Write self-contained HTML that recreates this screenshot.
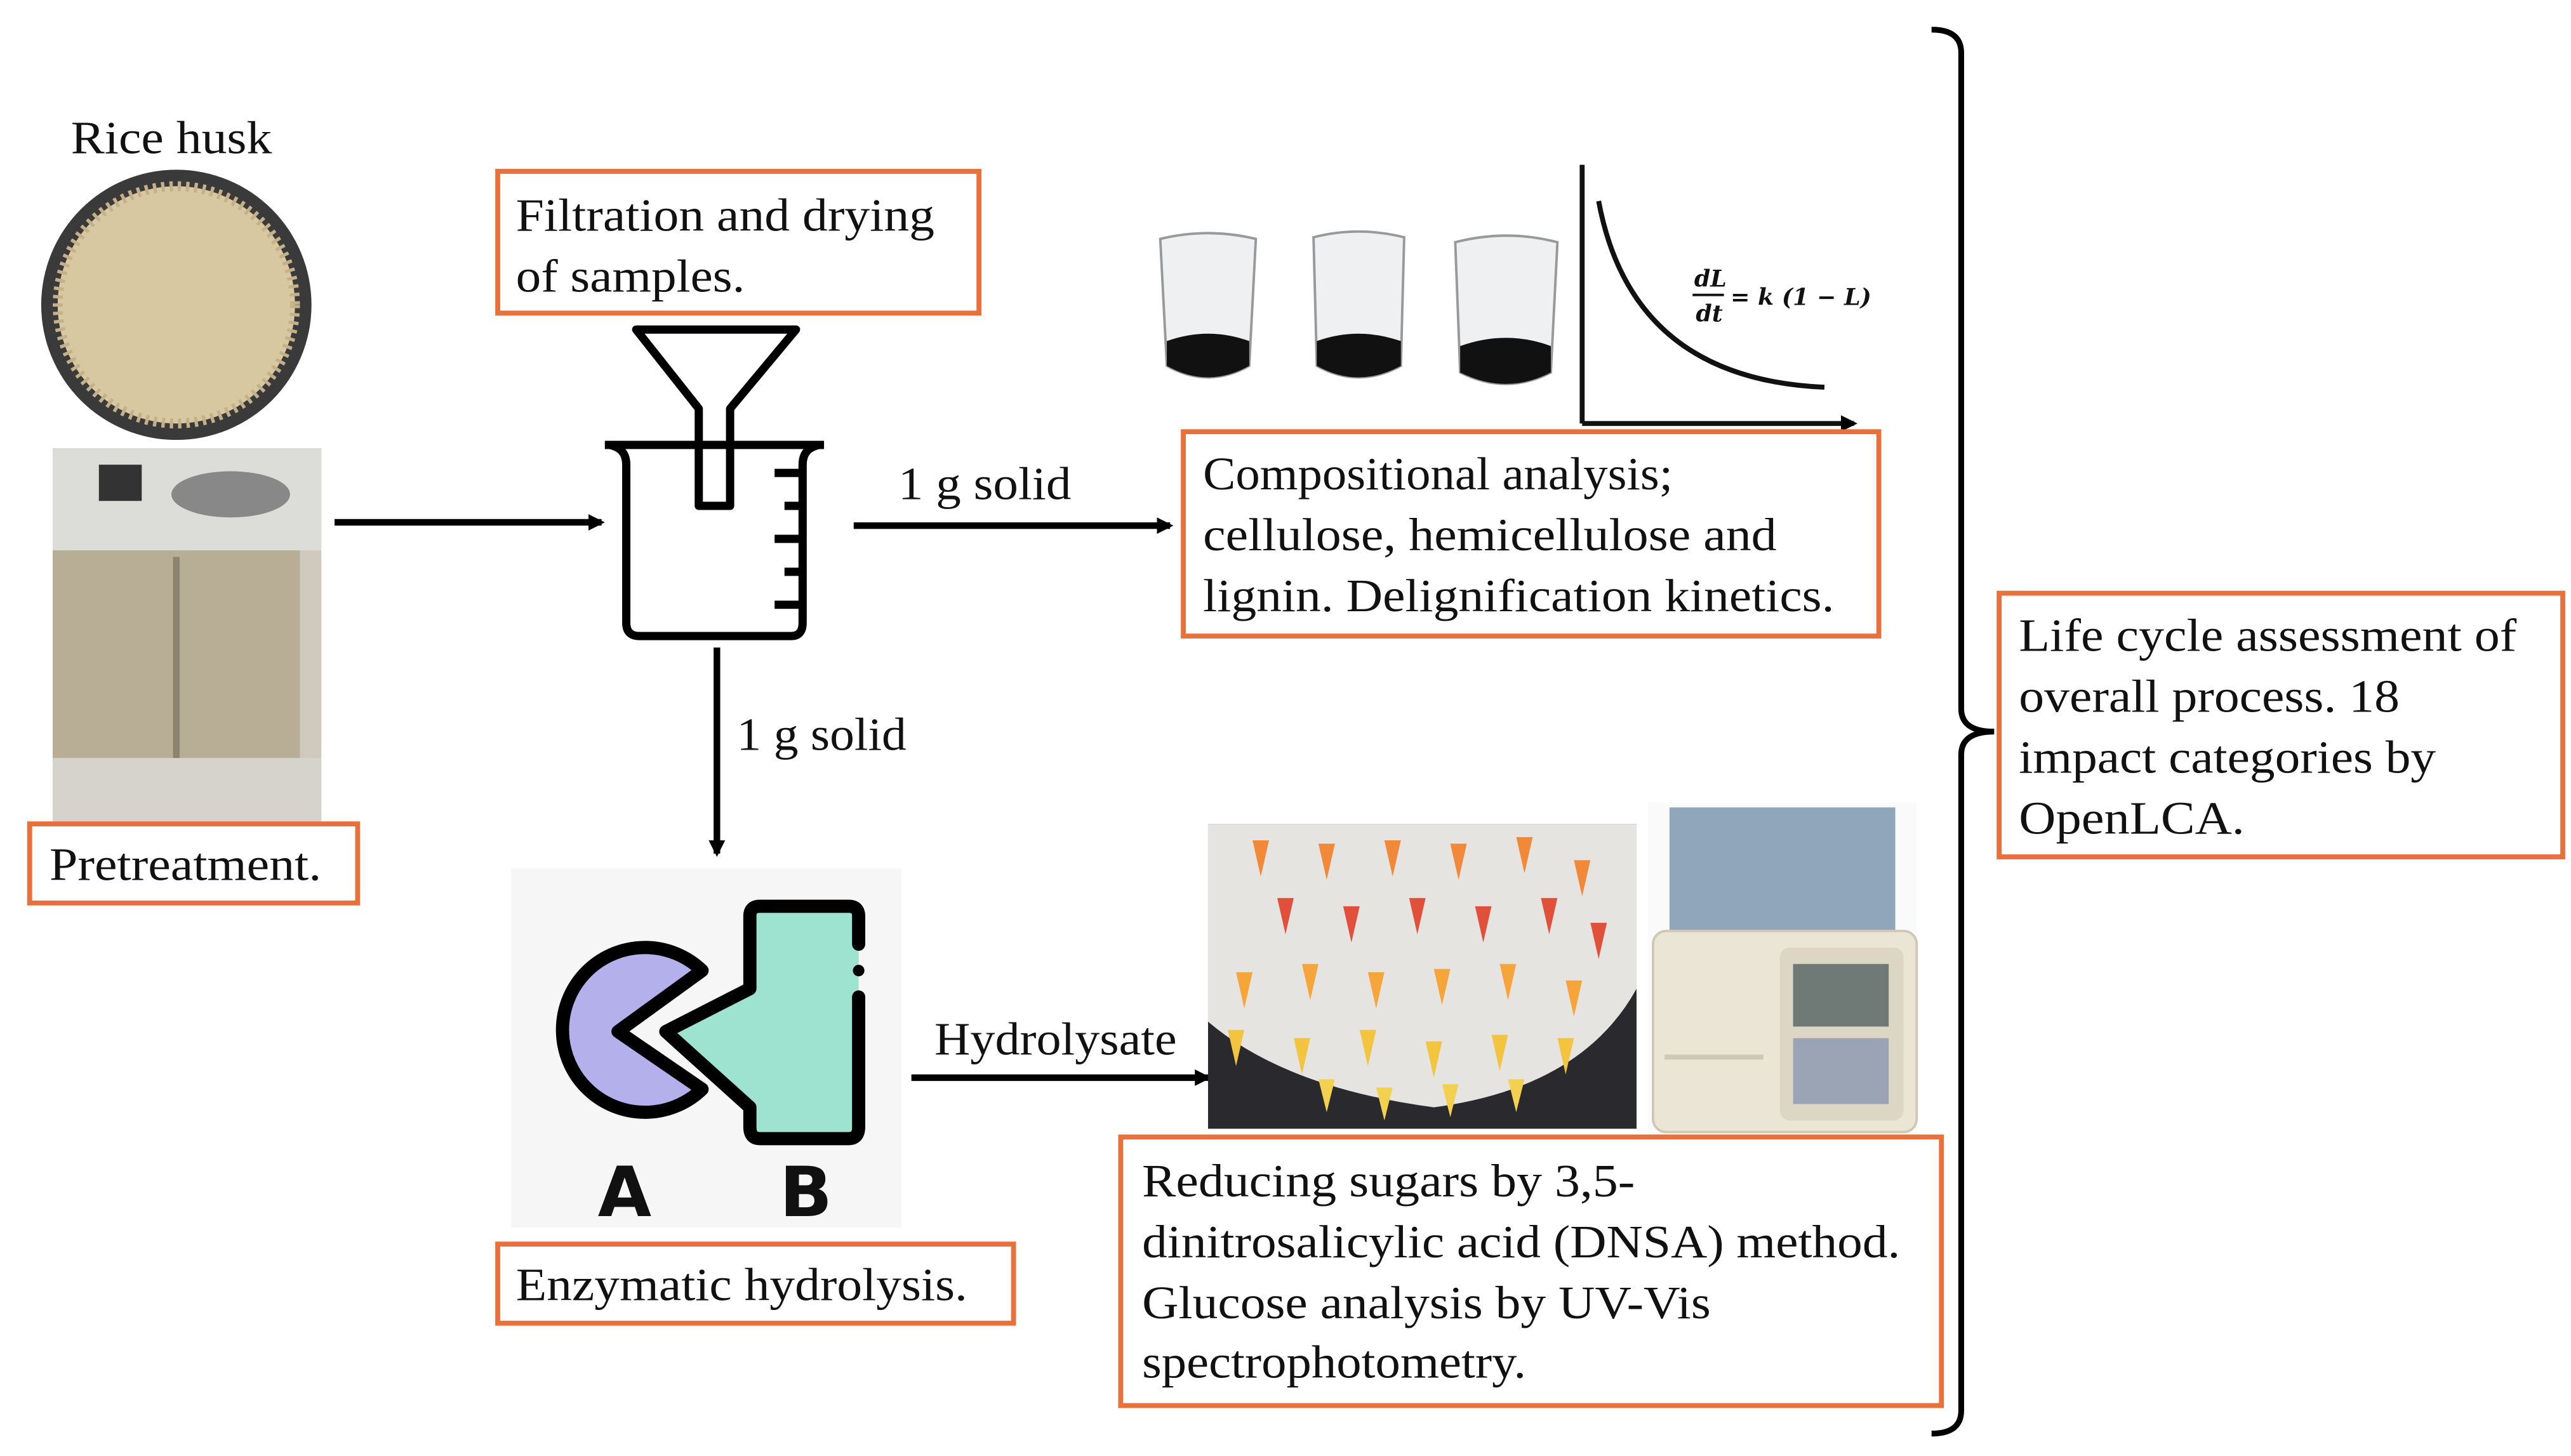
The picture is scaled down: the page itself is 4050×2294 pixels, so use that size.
<!DOCTYPE html>
<html><head><meta charset="utf-8"><style>html,body{margin:0;padding:0;background:#fff}svg{display:block}</style></head>
<body>
<svg width="4050" height="2294" viewBox="0 0 1560 883.6" preserveAspectRatio="none" xmlns="http://www.w3.org/2000/svg">
<defs><marker id="ah" markerWidth="10" markerHeight="10" refX="8" refY="5" orient="auto" markerUnits="userSpaceOnUse"><path d="M0,0 L10,5 L0,10 z" fill="#000"/></marker></defs>
<rect width="1560" height="884" fill="#fff"/>
<g font-family="Liberation Serif, serif" font-size="28" fill="#111" lengthAdjust="spacingAndGlyphs">
<text x="43" y="93" textLength="122" lengthAdjust="spacingAndGlyphs">Rice husk</text>
<circle cx="107" cy="185" r="82" fill="#3a3a3a"/>
<circle cx="107" cy="185" r="72" fill="#d8c8a2"/>
<circle cx="107" cy="185" r="72" fill="none" stroke="#c4b089" stroke-width="6" stroke-dasharray="2 3"/>
<rect x="32" y="272" width="163" height="228" fill="#cfcabd"/>
<rect x="32" y="272" width="163" height="62" fill="#dcdcd8"/>
<rect x="32" y="334" width="150" height="160" fill="#b8ad95"/>
<rect x="105" y="338" width="4" height="150" fill="#8c8370"/>
<rect x="60" y="282" width="26" height="22" fill="#333"/>
<ellipse cx="140" cy="300" rx="36" ry="14" fill="#888"/>
<rect x="32" y="460" width="163" height="40" fill="#d5d3cc"/>
<rect x="18" y="500" width="199" height="48" fill="#fff" stroke="#e8703a" stroke-width="3"/>
<text x="30" y="534" textLength="165" lengthAdjust="spacingAndGlyphs">Pretreatment.</text>
<line x1="203" y1="317" x2="365" y2="317" stroke="#000" stroke-width="4" marker-end="url(#ah)"/>
<rect x="302" y="104" width="292" height="86" fill="#fff" stroke="#e8703a" stroke-width="3"/>
<text x="313" y="140" textLength="254" lengthAdjust="spacingAndGlyphs">Filtration and drying</text>
<text x="313" y="177" textLength="139" lengthAdjust="spacingAndGlyphs">of samples.</text>
<g fill="none" stroke="#000" stroke-width="5" stroke-linejoin="round">
<path d="M386,200 L483,200 L443,248 L443,307 L424,307 L424,248 Z"/>
<path d="M367,270 L500,270 M370,270 Q380,272 380,282 L380,378 Q380,386 388,386 L480,386 Q487,386 487,378 L487,282 Q487,272 497,270"/>
<path d="M487,287 L470,287 M487,307 L476,307 M487,327 L470,327 M487,347 L476,347 M487,367 L470,367"/>
</g>
<line x1="518" y1="319" x2="710" y2="319" stroke="#000" stroke-width="4" marker-end="url(#ah)"/>
<text x="545" y="303" textLength="105" lengthAdjust="spacingAndGlyphs">1 g solid</text>
<g>
<path d="M704,145 Q733,138 762,145 L758,222 Q733,236 708,222 Z" fill="#eef0f1" stroke="#999" stroke-width="1.5"/>
<path d="M708,207 Q733,198 758,207 L758,222 Q733,236 708,222 Z" fill="#111"/>
<path d="M797,144 Q824,137 852,144 L850,222 Q824,236 799,222 Z" fill="#eef0f1" stroke="#999" stroke-width="1.5"/>
<path d="M799,207 Q824,198 850,207 L850,222 Q824,236 799,222 Z" fill="#111"/>
<path d="M883,147 Q914,139 945,147 L941,226 Q914,240 886,226 Z" fill="#eef0f1" stroke="#999" stroke-width="1.5"/>
<path d="M886,210 Q914,200 941,210 L941,226 Q914,240 886,226 Z" fill="#111"/>
</g>
<line x1="960" y1="100" x2="960" y2="257" stroke="#111" stroke-width="3"/>
<line x1="960" y1="257" x2="1125" y2="257" stroke="#111" stroke-width="3" marker-end="url(#ah)"/>
<path d="M970,122 Q990,230 1107,235" fill="none" stroke="#111" stroke-width="3"/>
<g font-family="DejaVu Serif, serif" font-weight="bold" font-style="italic" font-size="14">
<text x="1028" y="174">dL</text><line x1="1027" y1="179" x2="1046" y2="179" stroke="#111" stroke-width="1.5"/><text x="1029" y="195">dt</text>
<text x="1050" y="185">= k (1 − L)</text></g>
<rect x="718" y="262" width="422" height="124" fill="#fff" stroke="#e8703a" stroke-width="3"/>
<text x="730" y="297" textLength="285" lengthAdjust="spacingAndGlyphs">Compositional analysis;</text>
<text x="730" y="334" textLength="348" lengthAdjust="spacingAndGlyphs">cellulose, hemicellulose and</text>
<text x="730" y="371" textLength="383" lengthAdjust="spacingAndGlyphs">lignin. Delignification kinetics.</text>
<line x1="435" y1="393" x2="435" y2="518" stroke="#000" stroke-width="4" marker-end="url(#ah)"/>
<text x="447" y="455" textLength="103" lengthAdjust="spacingAndGlyphs">1 g solid</text>
<rect x="310" y="527" width="237" height="218" fill="#f6f6f6"/>
<path d="M426,589 A50,50 0 1 0 426,661 L375,626 Z" fill="#b3b0ec" stroke="#000" stroke-width="8" stroke-linejoin="round"/>
<path d="M521,573 L521,556 Q521,550 515,550 L461,550 Q455,550 455,556 L455,600 L404,626 L455,672 L455,684 Q455,691 461,691 L515,691 Q521,691 521,684 L521,605" fill="#9ee3d0" stroke="#000" stroke-width="8" stroke-linejoin="round" stroke-linecap="round"/>
<circle cx="521" cy="589" r="3.5" fill="#000"/>
<text x="379" y="738" font-family="DejaVu Sans, sans-serif" font-weight="bold" font-size="42" text-anchor="middle">A</text>
<text x="489" y="738" font-family="DejaVu Sans, sans-serif" font-weight="bold" font-size="42" text-anchor="middle">B</text>
<rect x="302" y="755" width="313" height="48" fill="#fff" stroke="#e8703a" stroke-width="3"/>
<text x="313" y="789" textLength="274" lengthAdjust="spacingAndGlyphs">Enzymatic hydrolysis.</text>
<line x1="553" y1="654" x2="733" y2="654" stroke="#000" stroke-width="4" marker-end="url(#ah)"/>
<text x="567" y="640" textLength="147" lengthAdjust="spacingAndGlyphs">Hydrolysate</text>
<rect x="733" y="500" width="260" height="185" fill="#2a2a2e"/>
<path d="M733,500 L993,500 L993,600 Q960,660 870,672 Q780,660 733,620 Z" fill="#e6e4e0"/>
<g>
<path d="M760,510 l10,0 l-5,22 z M800,512 l10,0 l-5,22 z M840,510 l10,0 l-5,22 z M880,512 l10,0 l-5,22 z M920,508 l10,0 l-5,22 z M955,522 l10,0 l-5,22 z" fill="#f08a3a"/>
<path d="M775,545 l10,0 l-5,22 z M815,550 l10,0 l-5,22 z M855,545 l10,0 l-5,22 z M895,550 l10,0 l-5,22 z M935,545 l10,0 l-5,22 z M965,560 l10,0 l-5,22 z" fill="#e0503a"/>
<path d="M750,590 l10,0 l-5,22 z M790,585 l10,0 l-5,22 z M830,590 l10,0 l-5,22 z M870,588 l10,0 l-5,22 z M910,585 l10,0 l-5,22 z M950,595 l10,0 l-5,22 z" fill="#f5a53a"/>
<path d="M745,625 l10,0 l-5,22 z M785,630 l10,0 l-5,22 z M825,625 l10,0 l-5,22 z M865,632 l10,0 l-5,22 z M905,628 l10,0 l-5,22 z M945,630 l10,0 l-5,22 z" fill="#f2c440"/>
<path d="M800,655 l10,0 l-5,20 z M835,660 l10,0 l-5,20 z M875,658 l10,0 l-5,20 z M915,655 l10,0 l-5,20 z" fill="#f3d050"/>
</g>
<rect x="1000" y="487" width="163" height="203" fill="#fafafa"/>
<path d="M1013,490 L1150,490 L1150,565 L1013,565 Z" fill="#8fa6bb"/>
<rect x="1003" y="565" width="160" height="122" rx="8" fill="#ebe5d5" stroke="#cfc8b6" stroke-width="1.5"/>
<rect x="1080" y="575" width="75" height="105" rx="6" fill="#ddd6c4"/>
<rect x="1088" y="585" width="58" height="38" fill="#6f7a76"/>
<rect x="1088" y="630" width="58" height="40" fill="#9aa4b4"/>
<rect x="1010" y="640" width="60" height="3" fill="#cfc8b6"/>
<rect x="680" y="690" width="498" height="163" fill="#fff" stroke="#e8703a" stroke-width="3"/>
<text x="693" y="726" textLength="299" lengthAdjust="spacingAndGlyphs">Reducing sugars by 3,5-</text>
<text x="693" y="763" textLength="460" lengthAdjust="spacingAndGlyphs">dinitrosalicylic acid (DNSA) method.</text>
<text x="693" y="800" textLength="345" lengthAdjust="spacingAndGlyphs">Glucose analysis by UV-Vis</text>
<text x="693" y="836" textLength="233" lengthAdjust="spacingAndGlyphs">spectrophotometry.</text>
<path d="M1172,18 Q1190,18 1190,32 L1190,430 Q1190,444 1210,444 Q1190,444 1190,458 L1190,856 Q1190,870 1172,870" fill="none" stroke="#000" stroke-width="3.5"/>
<rect x="1213" y="360" width="342" height="160" fill="#fff" stroke="#e8703a" stroke-width="3"/>
<text x="1225" y="395" textLength="302" lengthAdjust="spacingAndGlyphs">Life cycle assessment of</text>
<text x="1225" y="432" textLength="231" lengthAdjust="spacingAndGlyphs">overall process. 18</text>
<text x="1225" y="469" textLength="253" lengthAdjust="spacingAndGlyphs">impact categories by</text>
<text x="1225" y="506" textLength="137" lengthAdjust="spacingAndGlyphs">OpenLCA.</text>
</g>
</svg>
</body></html>
